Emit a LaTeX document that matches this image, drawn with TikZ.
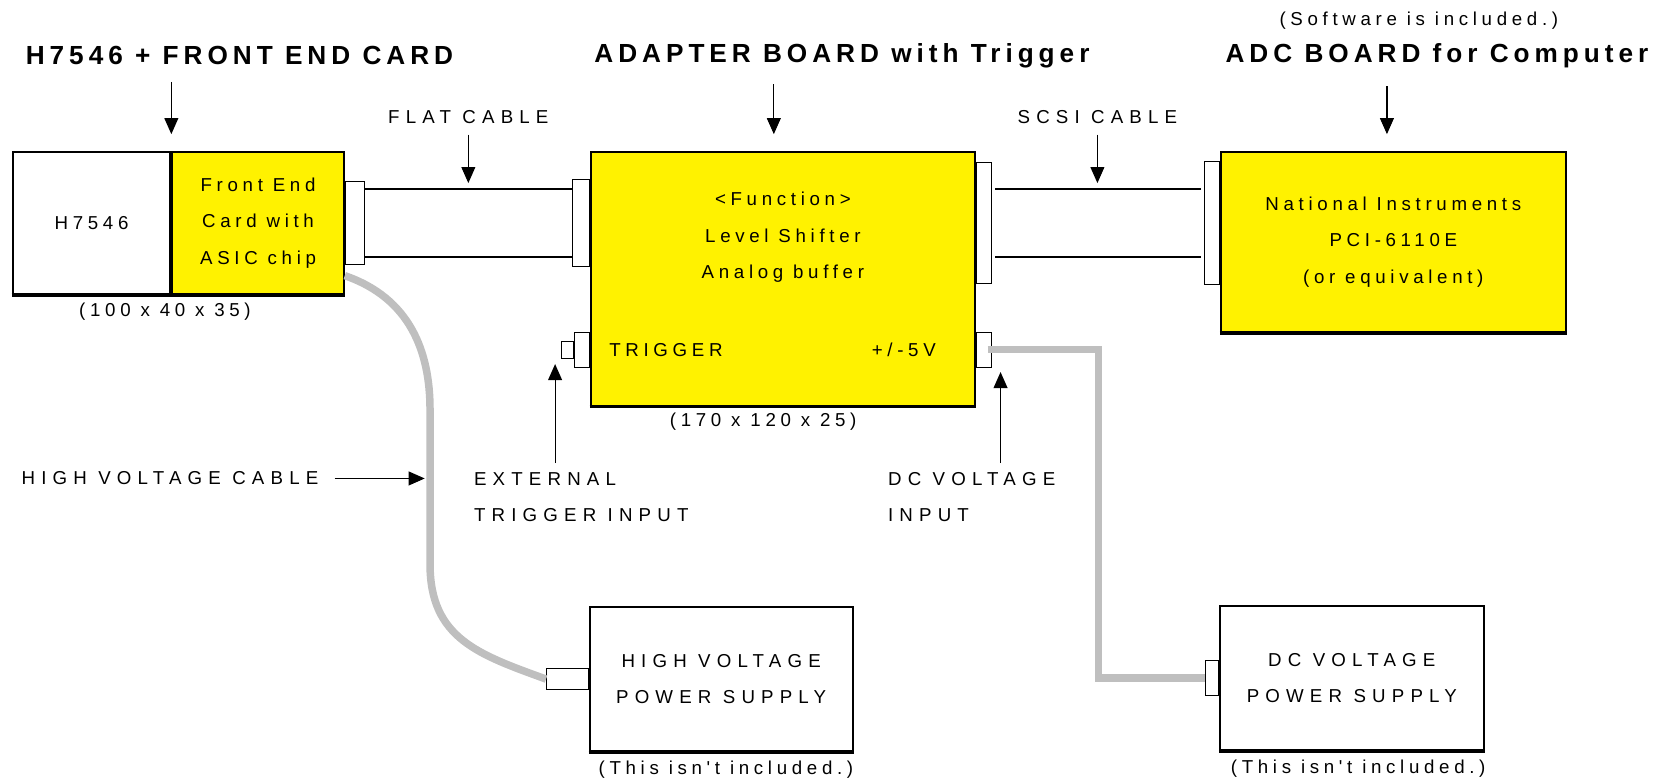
\documentclass[tikz,border=0pt]{standalone}
\usepackage{fontspec}
\newfontfamily\bodyfont{Liberation Sans}[LetterSpace=25,Ligatures=CommonOff]
\newfontfamily\capsfont{Liberation Sans}[LetterSpace=33]
\newfontfamily\headfont{Liberation Sans}[LetterSpace=19]
\usetikzlibrary{
	arrows.meta,
	positioning,
	calc
}

\begin{document}
\begin{tikzpicture}[x=0.2mm, y=-0.2mm,
				every node/.style={inner sep=0pt},
				txt/.style={
					font=\bodyfont\fontsize{10}{19.5}\selectfont, align=center
				},
				caps/.style={
					font=\capsfont\fontsize{10}{19.5}\selectfont, align=center
				},
				head/.style={
					font=\headfont\bfseries\fontsize{14}{16}\selectfont
				},
				box/.style={
					rectangle, draw, line width=1.1pt, fill=white, txt
				},
				ybox/.style={
					box, fill=yellow
				},
				plug/.style={
					rectangle, draw, line width=0.6pt, fill=white
				},
				cable/.style={line width=0.7pt},
				arrow/.style={-{Triangle[width=2.6mm,length=3mm]}, line width=0.6pt},
				graycable/.style={draw=gray!50, line width=4pt},
				]
				
				\useasboundingbox (0,0) rectangle (1568,734);
				
				%titles
				\node[head] (t1) at (225,52) {H7546 + FRONT END CARD};
				\node[head] (t2) at (791,52) {ADAPTER BOARD with Trigger};
				\node[head] (t3) at (1350,52) {ADC BOARD for Computer};
				\node[txt] (soft) at (1333,19) {(Software is included.)};
				
				%head + front end card
				\node[box, minimum width=29.6mm, minimum height=26.6mm] (pmt) at (86,209.5) {H7546};
				\node[ybox, minimum width=32.2mm, minimum height=26.6mm, right=0pt of pmt] (fec) {Front End\\Card with\\ASIC chip};
				\node[plug, minimum width=3.6mm, minimum height=15.6mm, right=0pt of fec] (fecout) {};
				\node[txt] (pmtsize) at (155,293) {(100 x 40 x 35)};
				
				%adapter board
				\coordinate (trigrow) at (0,328.5);
				\node[ybox, minimum width=72.2mm, minimum height=47.6mm] (adapter) at (735.5,262) {};
				\node[txt] (adtext) at ([yshift=-16.2mm]adapter.north) {<Function>\\Level Shifter\\Analog buffer};
				\node (adin) at (adapter.west |- fecout) [plug, anchor=east, minimum width=3.2mm, minimum height=16.2mm] {};
				\node (adout) at (adapter.east |- fecout) [plug, anchor=west, minimum width=2.8mm, minimum height=22.8mm] {};
				\node (trigcon) at (adapter.west |- trigrow) [plug, anchor=east, minimum width=2.8mm, minimum height=6.6mm] {};
				\node[plug, minimum width=2.2mm, minimum height=3.2mm, left=0pt of trigcon] (trigpin) {};
				\node (vcc) at (adapter.east |- trigrow) [plug, anchor=west, minimum width=2.8mm, minimum height=6.6mm] {};
				\node[txt, right=3.6mm of trigcon] (trig) {TRIGGER};
				\node[txt, left=7.5mm of vcc] (volt) {+/-5V};
				\node[txt] (adsize) at (717,396) {(170 x 120 x 25)};
				
				%adc board
				\node[ybox, minimum width=64.8mm, minimum height=33.8mm] (adc) at (1309,227.5) {National Instruments\\PCI-6110E\\(or equivalent)};
				\node (adcin) at (adc.west |- adout) [plug, anchor=east, minimum width=2.8mm, minimum height=23mm] {};
				
				%power supplies
				\node[box, caps, minimum width=49.4mm, minimum height=27.2mm] (hvps) at (677.5,638) {HIGH VOLTAGE\\POWER SUPPLY};
				\node[plug, minimum width=7.8mm, minimum height=4mm, left=0pt of hvps] (hvcon) {};
				\node[txt, below=1.6mm of hvps, xshift=0.9mm] (hvnote) {(This isn't included.)};
				
				\node[box, caps, minimum width=49.6mm, minimum height=27.2mm] (dcps) at (1270,637) {DC VOLTAGE\\POWER SUPPLY};
				\node[plug, minimum width=2.4mm, minimum height=6.6mm, left=0pt of dcps] (dccon) {};
				\node[txt, below=1.6mm of dcps, xshift=1.2mm] (dcnote) {(This isn't included.)};
				
				\foreach \b in {pmt,fec,adapter,adc,hvps,dcps}
					\draw[line width=2pt] (\b.south west) -- (\b.south east);
				
				%cables
				\coordinate (fl1) at ([yshift=6.4mm]fecout.east);
				\coordinate (fl2) at ([yshift=-6.4mm]fecout.east);
				\draw[cable] (fl1) -- (fl1 -| adin.west);
				\draw[cable] (fl2) -- (fl2 -| adin.west);
				
				\coordinate (sc1) at ([xshift=0.6mm, yshift=6.4mm]adout.east);
				\coordinate (sc2) at ([xshift=0.6mm, yshift=-6.4mm]adout.east);
				\draw[cable] (sc1) -- ([xshift=-0.6mm]sc1 -| adcin.west);
				\draw[cable] (sc2) -- ([xshift=-0.6mm]sc2 -| adcin.west);
				
				\draw[graycable] ($(fec.south east)+(0,-18)$) .. controls (385,280) and (404,330) .. (404,385)
					-- (404,530) .. controls (404,600) and (450,615) .. (hvcon.west);
				\draw[graycable] ([xshift=-0.8mm]vcc.east) -- ++(104,0) |- (dccon.west);
				
				%labels
				\node[caps] (flat) at (440,110) {FLAT CABLE};
				\node[caps] (scsi) at (1031,110) {SCSI CABLE};
				\node[caps, anchor=west] (hvlbl) at (20,449.5) {HIGH VOLTAGE CABLE};
				\node[caps, align=left, anchor=west] (exttrig) at (445,467) {EXTERNAL\\TRIGGER INPUT};
				\node[caps, align=left, anchor=west] (dcin) at (834,467) {DC VOLTAGE\\INPUT};
				
				%arrows
				\draw[arrow, shorten >=3.2mm] ([yshift=13mm]fec.north west) -- (fec.north west);
				\draw[arrow, shorten >=3.2mm] ([xshift=-1.7mm, yshift=12.6mm]adapter.north) -- ([xshift=-1.7mm]adapter.north);
				\draw[arrow, shorten >=3.2mm] ([xshift=-1.2mm, yshift=12.2mm]adc.north) -- ([xshift=-1.2mm]adc.north);
				\draw[arrow, shorten <=2mm, shorten >=1.1mm] (flat) -- (flat |- fl1);
				\draw[arrow, shorten <=2mm, shorten >=1.1mm] (scsi) -- (scsi |- sc1);
				
				\coordinate (trigtail) at (521.5,435);
				\draw[arrow, shorten >=1mm] (trigtail) -- (trigtail |- trigpin.south);
				\coordinate (dctail) at (940,435);
				\draw[arrow, shorten >=0.8mm] (dctail) -- (dctail |- vcc.south);
				\coordinate (hvtip) at (399,452);
				\draw[arrow, shorten <=3mm] (hvlbl.east) -- (hvlbl.east -| hvtip);
			\end{tikzpicture}
\end{document}
